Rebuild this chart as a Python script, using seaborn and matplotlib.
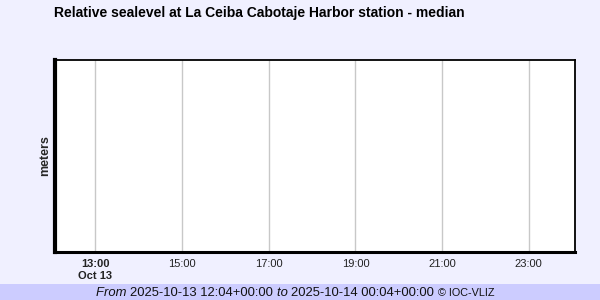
import matplotlib
matplotlib.use("Agg")
import matplotlib.pyplot as plt
import matplotlib.dates as mdates
import seaborn as sns
import pandas as pd

title = "Relative sealevel at La Ceiba Cabotaje Harbor station - median"
ylabel = "meters"
start = "2025-10-13 12:04"
end = "2025-10-14 00:04"
tick_hours = ["2025-10-13 13:00", "2025-10-13 15:00", "2025-10-13 17:00",
              "2025-10-13 19:00", "2025-10-13 21:00", "2025-10-13 23:00"]
tick_labels = ["13:00\nOct 13", "15:00", "17:00", "19:00", "21:00", "23:00"]
times = []   # no data in the period
levels = []

sns.set_theme(style="white")
plt.rcParams['font.family'] = ['Liberation Sans', 'DejaVu Sans']

fig = plt.figure(figsize=(6, 3), dpi=100, facecolor="#F0F0FF")
ax = fig.add_axes([55/600, 1-252/300, 520/600, 192/300])
ax.set_facecolor("white")

df = pd.DataFrame({"time": pd.to_datetime(pd.Series(times, dtype="object")),
                   "level": pd.Series(levels, dtype=float)})
sns.lineplot(data=df, x="time", y="level", ax=ax, color="#0000CC")

ax.set_xlim(pd.Timestamp(start), pd.Timestamp(end))
ax.set_ylim(0, 1)
ax.set_xticks([mdates.date2num(pd.Timestamp(t)) for t in tick_hours])
ax.set_xticklabels(tick_labels, fontsize=8, color="#222222")
ax.get_xticklabels()[0].set_fontweight("bold")
ax.set_yticks([])
ax.set_xlabel("")
ax.set_ylabel(ylabel, fontsize=9, fontweight="bold", labelpad=3)
ax.grid(axis="x", color="#C8C8C8", linewidth=1)
ax.tick_params(axis="x", length=3, width=1, color="#C8C8C8", pad=2)

for side, lw in [("left", 3), ("bottom", 2.2), ("top", 1.3), ("right", 1.3)]:
    ax.spines[side].set_color("black")
    ax.spines[side].set_linewidth(lw)
    ax.spines[side].set_visible(True)

fig.text(259/600, 1-13/300, title, ha="center", va="center",
         fontsize=10, fontweight="bold", color="black")

# footer band
fig.patches.append(plt.Rectangle((0, 0), 1, 16/300, transform=fig.transFigure,
                                 facecolor="#CCCCFF", edgecolor="none", zorder=0))

parts = [("From ", "italic", 9.4), ("2025-10-13 12:04+00:00 ", "normal", 9.4),
         ("to ", "italic", 9.4), ("2025-10-14 00:04+00:00 ", "normal", 9.4),
         ("© IOC-VLIZ", "normal", 7.8)]
fig.canvas.draw()
r = fig.canvas.get_renderer()
x = 96
ybase = 1 - 296/300
for txt, st, fs in parts:
    t = fig.text(x/600, ybase, txt, ha="left", va="baseline", fontsize=fs,
                 style=st, color="#111111")
    bb = t.get_window_extent(renderer=r)
    x += bb.width

fig.savefig("out.png", dpi=100, facecolor=fig.get_facecolor())
